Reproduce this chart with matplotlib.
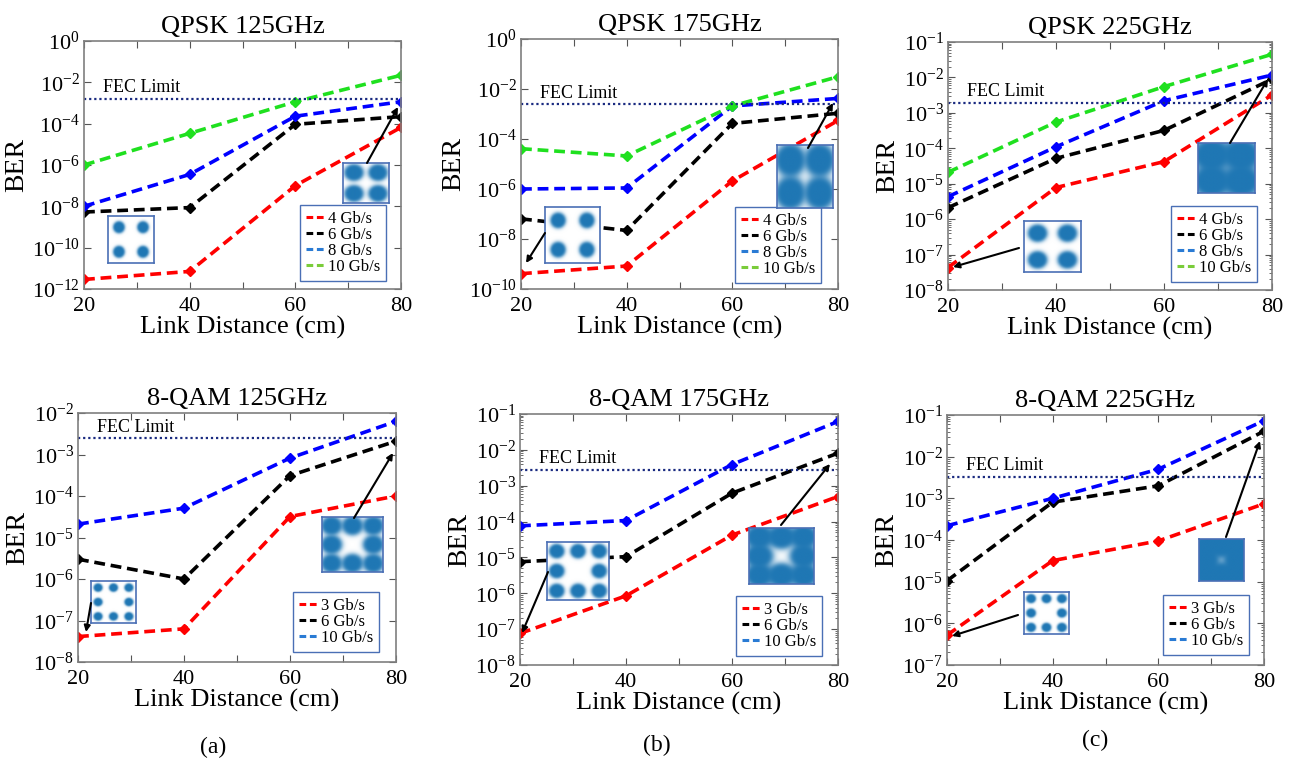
import numpy as np
import matplotlib
matplotlib.use('Agg')
import matplotlib.pyplot as plt
from matplotlib.lines import Line2D
from matplotlib.patches import FancyArrowPatch
from matplotlib.colors import LinearSegmentedColormap
from matplotlib.ticker import FixedLocator, LogFormatterMathtext, LogLocator, NullFormatter

plt.rcParams['font.family'] = 'Liberation Serif'
plt.rcParams['mathtext.fontset'] = 'custom'
plt.rcParams['mathtext.rm'] = 'Liberation Serif'
plt.rcParams['axes.unicode_minus'] = False

# link distance (cm)
dist = [20, 40, 60, 80]

# BER, one list per data rate
qpsk_125 = [[2.9e-12, 7.1e-12, 1.0e-7, 6.6e-5],
            [5.3e-9, 8.7e-9, 9.3e-5, 2.2e-4],
            [1.0e-8, 3.5e-7, 2.3e-4, 1.15e-3],
            [1.0e-6, 3.4e-5, 1.15e-3, 2.2e-2]]
qpsk_175 = [[4.1e-10, 8.3e-10, 2.1e-6, 5.5e-4],
            [6.4e-8, 2.2e-8, 4.2e-4, 1.07e-3],
            [1.0e-6, 1.1e-6, 2.1e-3, 4.2e-3],
            [4.1e-5, 2.1e-5, 2.1e-3, 3.1e-2]]
qpsk_225 = [[4.3e-8, 7.8e-6, 4.2e-5, 3.2e-3],
            [2.1e-6, 5.2e-5, 3.2e-4, 8.9e-3],
            [4.3e-6, 1.1e-4, 2.2e-3, 1.17e-2],
            [2.1e-5, 5.5e-4, 5.5e-3, 4.5e-2]]
qam8_125 = [[4.1e-8, 6.3e-8, 3.2e-5, 1.0e-4],
            [3.0e-6, 1.0e-6, 3.1e-4, 2.1e-3],
            [2.1e-5, 5.1e-5, 8.2e-4, 6.3e-3]]
qam8_175 = [[7.6e-8, 8.5e-7, 4.2e-5, 5.0e-4],
            [7.6e-6, 1.05e-5, 6.2e-4, 8.1e-3],
            [7.6e-5, 1.07e-4, 3.9e-3, 6.2e-2]]
qam8_225 = [[5.2e-7, 3.2e-5, 9.5e-5, 7.4e-4],
            [1.05e-5, 8.1e-4, 2.0e-3, 4.1e-2],
            [2.2e-4, 1.0e-3, 5.0e-3, 7.3e-2]]

qpsk_rates = ['4 Gb/s', '6 Gb/s', '8 Gb/s', '10 Gb/s']
qam8_rates = ['3 Gb/s', '6 Gb/s', '10 Gb/s']
fec = [1.55e-3, 2.4e-3, 1.95e-3, 2.45e-3, 2.7e-3, 3.3e-3]
titles = ['QPSK 125GHz', 'QPSK 175GHz', 'QPSK 225GHz',
          '8-QAM 125GHz', '8-QAM 175GHz', '8-QAM 225GHz']

W, H = 1299, 761
fig = plt.figure(figsize=(W / 100, H / 100), dpi=100)
fig.patch.set_facecolor('white')


def rect(l, t, r, b):
  return [l / W, 1 - b / H, (r - l) / W, (b - t) / H]


def fpt(x, y):
  return (x / W, 1 - y / H)


line_cols = ['#ff0000', '#000000', '#0000ff', '#1fe01f']
leg_cols = ['#ff0000', '#000000', '#2a7bd4', '#7acc3a']
qam_line_cols = ['#ff0000', '#000000', '#0000ff']
qam_leg_cols = ['#ff0000', '#000000', '#2a7bd4']
frame_col = '#4a6fb5'

panels = [
  (qpsk_125, qpsk_rates, line_cols, leg_cols, (84, 41, 401, 289), (1e-12, 1e0), 2, False, (386, 281)),
  (qpsk_175, qpsk_rates, line_cols, leg_cols, (521, 39, 838, 289), (1e-10, 1e0), 2, False, (821, 283)),
  (qpsk_225, qpsk_rates, line_cols, leg_cols, (948, 42, 1272, 290), (1e-8, 1e-1), 1, True, (1257, 282)),
  (qam8_125, qam8_rates, qam_line_cols, qam_leg_cols, (78, 413, 396, 662), (1e-8, 1e-2), 1, False, (379, 652)),
  (qam8_175, qam8_rates, qam_line_cols, qam_leg_cols, (520, 414, 838, 665), (1e-8, 1e-1), 1, True, (822, 656)),
  (qam8_225, qam8_rates, qam_line_cols, qam_leg_cols, (947, 415, 1264, 665), (1e-7, 1e-1), 1, True, (1249, 655)),
]

for i, (data, rates, cols, lcols, box, ylim, step, minor, legpos) in enumerate(panels):
  ax = fig.add_axes(rect(*box))
  ax.set_yscale('log')
  for ser, c in zip(data, cols):
    ax.plot(dist, ser, color=c, lw=2.6, dashes=(3, 1.6), marker='D', ms=5,
            mec=c, mfc=c)
  ax.plot([20, 80], [fec[i], fec[i]], color='#1a2a80', lw=1.6, ls=(0, (1, 1.3)))
  ax.annotate('FEC Limit', xy=(0.06, fec[i]), xycoords=('axes fraction', 'data'),
              xytext=(0, 2), textcoords='offset points', ha='left', va='bottom',
              fontsize=13)
  ax.set_xlim(20, 80)
  ax.set_ylim(*ylim)
  ax.set_xticks(range(20, 81, 10))
  ax.set_xticklabels(['20', '', '40', '', '60', '', '80'])
  lo, hi = int(np.log10(ylim[0])), int(np.log10(ylim[1]))
  ax.yaxis.set_major_locator(FixedLocator([10.0 ** e for e in range(lo, hi + 1, step)]))
  ax.yaxis.set_major_formatter(LogFormatterMathtext())
  if minor:
    ax.yaxis.set_minor_locator(LogLocator(base=10, subs=np.arange(2, 10), numticks=20))
  else:
    ax.yaxis.set_minor_locator(FixedLocator([]))
  ax.yaxis.set_minor_formatter(NullFormatter())
  ax.tick_params(which='both', direction='in', top=True, right=True, color='#555555')
  ax.tick_params(which='major', length=5, labelsize=16)
  ax.tick_params(axis='x', which='major', pad=6)
  ax.tick_params(axis='y', which='major', pad=3)
  ax.tick_params(which='minor', length=2.5)
  for s in ax.spines.values():
    s.set_color('#7f7f7f')
    s.set_linewidth(1.2)
  ax.set_title(titles[i], fontsize=19, pad=6)
  ax.set_xlabel('Link Distance (cm)', fontsize=19, labelpad=0)
  ax.set_ylabel('BER', fontsize=20, labelpad=2)
  handles = [Line2D([], [], color=c, lw=2.2, dashes=(2.2, 1.2)) for c in lcols]
  lx, ly = legpos
  leg = ax.legend(handles, rates, loc='lower right', bbox_to_anchor=fpt(lx, ly),
                  bbox_transform=fig.transFigure, fontsize=12, handlelength=1.2,
                  handletextpad=0.1, labelspacing=0.0, borderpad=0.35,
                  borderaxespad=0, fancybox=False, framealpha=1)
  leg.get_frame().set_edgecolor(frame_col)
  leg.get_frame().set_linewidth(1.0)

# constellation insets
blue_map = LinearSegmentedColormap.from_list('cst', ['#ffffff', '#1f77b4'])
qpsk_pts = [(-1, -1), (-1, 1), (1, -1), (1, 1)]
qam8_pts = [(-1, -1), (-1, 0), (-1, 1), (0, -1), (0, 1), (1, -1), (1, 0), (1, 1)]


def constellation(box, pts, spread, gain, lim):
  ax = fig.add_axes(rect(*box))
  g = np.linspace(-lim, lim, 160)
  xx, yy = np.meshgrid(g, g)
  img = np.zeros_like(xx)
  for px, py in pts:
    img += np.exp(-((xx - px) ** 2 + (yy - py) ** 2) / (2 * spread ** 2))
  img = 1 - np.exp(-gain * img)
  ax.imshow(img, cmap=blue_map, vmin=0, vmax=1, extent=(-lim, lim, -lim, lim),
            interpolation='bilinear', aspect='auto')
  ax.set_xticks([])
  ax.set_yticks([])
  for s in ax.spines.values():
    s.set_color(frame_col)
    s.set_linewidth(1.2)


constellation((108, 216, 154, 263), qpsk_pts, 0.2, 14, 1.9)
constellation((343, 163, 389, 203), qpsk_pts, 0.34, 12, 1.9)
constellation((545, 207, 600, 263), qpsk_pts, 0.22, 14, 1.9)
constellation((777, 145, 833, 208), qpsk_pts, 0.44, 12, 1.9)
constellation((1024, 221, 1081, 272), qpsk_pts, 0.27, 14, 1.9)
constellation((1198, 143, 1255, 193), qpsk_pts, 0.55, 12, 1.9)
constellation((91, 581, 136, 623), qam8_pts, 0.12, 14, 1.45)
constellation((322, 517, 383, 572), qam8_pts, 0.22, 10, 1.45)
constellation((547, 542, 609, 600), qam8_pts, 0.15, 14, 1.45)
constellation((749, 528, 814, 584), qam8_pts, 0.28, 10, 1.45)
constellation((1024, 592, 1069, 634), qam8_pts, 0.13, 14, 1.45)
constellation((1199, 539, 1244, 581), qam8_pts, 0.38, 10, 1.45)

# arrows from insets to the points they show
arrows = [((367, 163), (398, 107)), ((545, 233), (526, 263)),
          ((808, 148), (833, 103)), ((1019, 248), (953, 267)),
          ((1230, 143), (1268, 79)), ((91, 603), (86, 632)),
          ((354, 518), (393, 453)), ((548, 572), (522, 633)),
          ((781, 525), (830, 464)), ((1018, 615), (952, 636)),
          ((1226, 537), (1260, 441))]
for a, b in arrows:
  fig.add_artist(FancyArrowPatch(fpt(*a), fpt(*b), transform=fig.transFigure,
                                 arrowstyle='-|>', mutation_scale=9, color='black',
                                 lw=1.5, shrinkA=0, shrinkB=0))

fig.text(213 / W, 1 - 747 / H, '(a)', ha='center', va='center', fontsize=17)
fig.text(657 / W, 1 - 745 / H, '(b)', ha='center', va='center', fontsize=17)
fig.text(1095 / W, 1 - 740 / H, '(c)', ha='center', va='center', fontsize=17)

fig.savefig('out.png', dpi=100)
